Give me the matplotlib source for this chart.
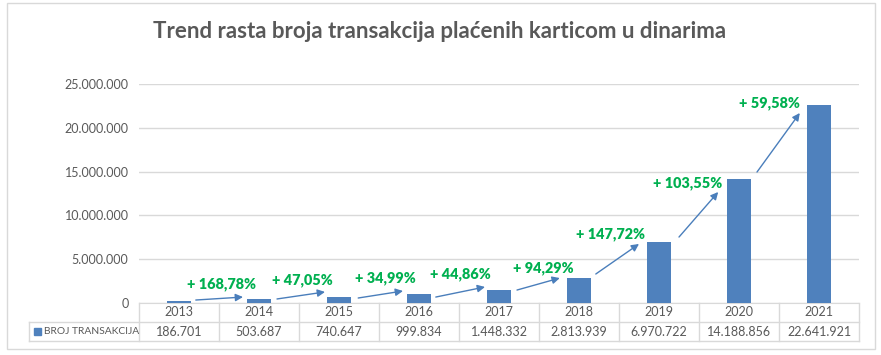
import matplotlib
matplotlib.use("Agg")
import numpy as np
import matplotlib.pyplot as plt
from matplotlib.patches import Rectangle
from matplotlib.lines import Line2D
from matplotlib.transforms import blended_transform_factory

plt.rcParams['font.family'] = ['Lato', 'DejaVu Sans']

# Data
years = ['2013', '2014', '2015', '2016', '2017', '2018', '2019', '2020', '2021']
transakcije = [186701, 503687, 740647, 999834, 1448332, 2813939, 6970722, 14188856, 22641921]
value_labels = ['186.701', '503.687', '740.647', '999.834', '1.448.332',
                '2.813.939', '6.970.722', '14.188.856', '22.641.921']
growth_labels = ['+ 168,78%', '+ 47,05%', '+ 34,99%', '+ 44,86%', '+ 94,29%',
                 '+ 147,72%', '+ 103,55%', '+ 59,58%']
series_name = 'BROJ TRANSAKCIJA'
title = 'Trend rasta broja transakcija plaćenih karticom u dinarima'

# annotation layout (data units)
label_pos = [(0.53, 2.17e6), (1.54, 2.63e6), (2.58, 2.85e6), (3.52, 3.31e6), (4.56, 4.0e6),
             (5.40, 7.88e6), (6.36, 13.7e6), (7.375, 22.8e6)]
arrow_from = [(0.21, 0.34e6), (1.225, 0.46e6), (2.24, 0.57e6), (3.21, 0.68e6), (4.225, 1.48e6),
              (5.21, 3.31e6), (6.25, 7.53e6), (7.225, 14.95e6)]
arrow_to = [(0.80, 0.68e6), (1.825, 1.26e6), (2.80, 1.37e6), (3.825, 1.83e6), (4.76, 2.85e6),
            (5.75, 6.74e6), (6.74, 12.67e6), (7.76, 21.69e6)]

W, H = 881, 355
bar_color = '#4F81BD'
grid_color = '#D9D9D9'
text_color = '#595959'
green = '#00B050'


def fx(px):
    return px / W


def fy(py):
    return 1 - py / H


fig = plt.figure(figsize=(W / 100, H / 100), dpi=100)
fig.patch.set_facecolor('white')

# chart border
fig.patches.append(Rectangle((fx(7), fy(349)), fx(875) - fx(7), fy(3) - fy(349),
                             transform=fig.transFigure, fill=False,
                             edgecolor=grid_color, lw=1))

ax = fig.add_axes([fx(139), fy(303), fx(859) - fx(139), fy(84) - fy(303)])
x = np.arange(len(years))
ax.bar(x, transakcije, width=0.31, color=bar_color, zorder=3)
ax.set_xlim(-0.5, len(years) - 0.5)
ax.set_ylim(0, 25e6)
ax.set_yticks(np.arange(0, 25e6 + 1, 5e6))
ax.set_yticklabels(['0' if v == 0 else f'{int(v):,}'.replace(',', '.')
                    for v in np.arange(0, 25e6 + 1, 5e6)])
ax.tick_params(axis='y', length=0, pad=7.5, labelsize=9, labelcolor=text_color)
ax.set_xticks([])
ax.grid(axis='y', color=grid_color, lw=1, zorder=0)
for s in ['top', 'right', 'left']:
    ax.spines[s].set_visible(False)
ax.spines['bottom'].set_color(grid_color)

for lab, (tx, ty) in zip(growth_labels, label_pos):
    ax.text(tx, ty, lab, color=green, fontsize=10.4, fontweight='heavy',
            ha='center', va='center', zorder=5)
for (x0, y0), (x1, y1) in zip(arrow_from, arrow_to):
    ax.annotate('', xy=(x1, y1), xytext=(x0, y0),
                arrowprops=dict(arrowstyle='-|>', color='#4A7EBB', lw=1,
                                mutation_scale=11, shrinkA=0, shrinkB=0),
                zorder=4)

# data table
bt = blended_transform_factory(ax.transData, fig.transFigure)
lkw = dict(color=grid_color, lw=1)
fig.lines.append(Line2D([fx(29), fx(859)], [fy(322), fy(322)], transform=fig.transFigure, **lkw))
fig.lines.append(Line2D([fx(29), fx(859)], [fy(341), fy(341)], transform=fig.transFigure, **lkw))
fig.lines.append(Line2D([fx(29), fx(29)], [fy(322), fy(341)], transform=fig.transFigure, **lkw))
for b in np.arange(-0.5, len(years), 1.0):
    fig.lines.append(Line2D([b, b], [fy(303), fy(341)], transform=bt, **lkw))
for i, (yr, v) in enumerate(zip(years, value_labels)):
    fig.text(i, fy(312.5), yr, transform=bt, ha='center', va='center',
             fontsize=9, color=text_color)
    fig.text(i, fy(331.5), v, transform=bt, ha='center', va='center',
             fontsize=9, color=text_color)
fig.patches.append(Rectangle((fx(34), fy(335)), fx(7), fy(328) - fy(335),
                             transform=fig.transFigure, color=bar_color))
fig.text(fx(44), fy(331.5), series_name, ha='left', va='center',
         fontsize=7.4, color=text_color)

fig.text(fx(440), fy(31), title, ha='center', va='center', fontsize=16,
         fontweight='bold', color=text_color)

fig.savefig('out.png', dpi=100)
